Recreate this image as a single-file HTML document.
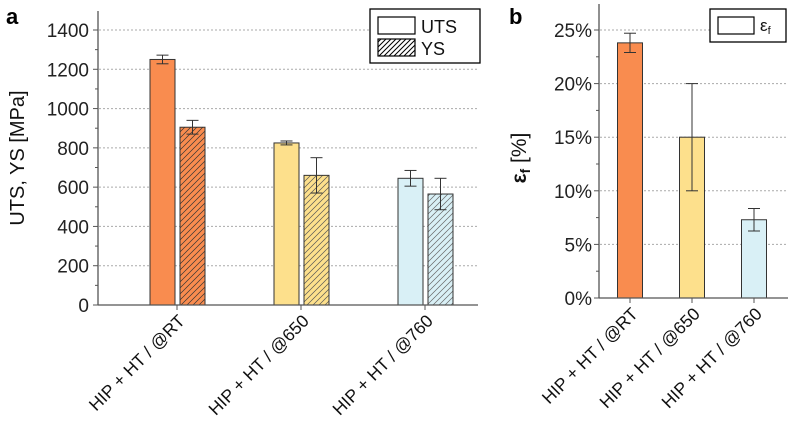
<!DOCTYPE html>
<html><head><meta charset="utf-8"><style>
body{margin:0;background:#fff}
svg{display:block;font-family:"Liberation Sans",sans-serif}
</style></head><body>
<svg id="c" width="795" height="425" viewBox="0 0 795 425">
<defs>
<pattern id="h1" patternUnits="userSpaceOnUse" width="6" height="6"><rect width="6" height="6" fill="#f98c4f"/><path d="M-1,7 L7,-1 M-2,2 L2,-2 M4,8 L8,4" stroke="#333" stroke-width="0.7"/></pattern>
<pattern id="h2" patternUnits="userSpaceOnUse" width="6" height="6"><rect width="6" height="6" fill="#fde08c"/><path d="M-1,7 L7,-1 M-2,2 L2,-2 M4,8 L8,4" stroke="#555" stroke-width="0.7"/></pattern>
<pattern id="h3" patternUnits="userSpaceOnUse" width="6" height="6"><rect width="6" height="6" fill="#d9f0f6"/><path d="M-1,7 L7,-1 M-2,2 L2,-2 M4,8 L8,4" stroke="#666" stroke-width="0.7"/></pattern>
<pattern id="hl" patternUnits="userSpaceOnUse" width="5" height="5"><rect width="5" height="5" fill="#fff"/><path d="M-1,6 L6,-1 M-2,2 L2,-2 M3,7 L7,3" stroke="#000" stroke-width="1"/></pattern>
</defs>
<g id="pa"></g><g id="pb"></g>
</svg>
<script>
const categories=["HIP + HT / @RT","HIP + HT / @650","HIP + HT / @760"];
const utsValues=[1250,825,645];
const utsErr=[22,10,40];
const ysValues=[905,660,565];
const ysErr=[35,90,80];
const efValues=[23.8,15,7.3];
const efErr=[0.9,5,1.05];
const ticksA=[0,200,400,600,800,1000,1200,1400];
const ticksB=[0,5,10,15,20,25];
const fills=["#f98c4f","#fde08c","#d9f0f6"];
const hatches=["url(#h1)","url(#h2)","url(#h3)"];
const NS="http://www.w3.org/2000/svg";
function mk(p,t,a,txt){const e=document.createElementNS(NS,t);for(const k in a)e.setAttribute(k,a[k]);if(txt!==undefined)e.textContent=txt;p.appendChild(e);return e;}
const A=document.getElementById('pa');
const ya=v=>305-v*(275/1400);
const xa=i=>177+i*124;
ticksA.forEach(t=>{
 if(t>0){const g=mk(A,'line',{x1:99,x2:478,y1:ya(t),y2:ya(t),stroke:'#aaa','stroke-width':1,'stroke-dasharray':'2,2'});
 }
 const l=mk(A,'text',{x:89,y:ya(t)+7,'text-anchor':'end','font-size':19,fill:'#222'},t);
 
 mk(A,'line',{x1:93,x2:98,y1:ya(t),y2:ya(t),stroke:'#555'});
 if(t<1400)mk(A,'line',{x1:95,x2:98,y1:ya(t+100),y2:ya(t+100),stroke:'#555'});
});
function bar(P,x,y0,y1,fill,yf,name){
 const r=mk(P,'rect',{x:x,y:y1,width:25,height:y0-y1,fill:fill,stroke:'#333','stroke-width':1});
 
 const cx=x+12.5,a=yf[0],b=yf[1];
 mk(P,'line',{x1:cx,x2:cx,y1:a,y2:b,stroke:'#333'});
 mk(P,'line',{x1:cx-6,x2:cx+6,y1:a,y2:a,stroke:'#333'});
 mk(P,'line',{x1:cx-6,x2:cx+6,y1:b,y2:b,stroke:'#333'});
}
categories.forEach((c,i)=>{
 bar(A,xa(i)-27,305,ya(utsValues[i]),fills[i],[ya(utsValues[i]+utsErr[i]),ya(utsValues[i]-utsErr[i])],'uts-bar-'+i);
 bar(A,xa(i)+3,305,ya(ysValues[i]),hatches[i],[ya(ysValues[i]+ysErr[i]),ya(ysValues[i]-ysErr[i])],'ys-bar-'+i);
 mk(A,'line',{x1:xa(i),x2:xa(i),y1:305,y2:310,stroke:'#555'});
 const t=mk(A,'text',{x:xa(i)+9,y:322,'text-anchor':'end','font-size':17.5,fill:'#111',transform:`rotate(-45 ${xa(i)+9} 322)`},c);
 
});
mk(A,'line',{x1:98,x2:98,y1:11,y2:305,stroke:'#555','stroke-width':1.3});
mk(A,'line',{x1:98,x2:478,y1:305,y2:305,stroke:'#555','stroke-width':1.3});
let tt=mk(A,'text',{x:24,y:158,'text-anchor':'middle','font-size':20,fill:'#111',transform:'rotate(-90 24 158)'},'UTS, YS [MPa]');

tt=mk(A,'text',{x:6,y:24,'font-size':22,'font-weight':'bold',fill:'#000'},'a');

let lg=mk(A,'g',{});
mk(lg,'rect',{x:370,y:9,width:110,height:54,fill:'#fff',stroke:'#000','stroke-width':1.3});
mk(lg,'rect',{x:378,y:17,width:37,height:17,fill:'#fff',stroke:'#000','stroke-width':1.2});
mk(lg,'text',{x:421,y:33,'font-size':18,fill:'#111'},'UTS');
mk(lg,'rect',{x:378,y:39,width:37,height:17,fill:'url(#hl)',stroke:'#000','stroke-width':1.2});
mk(lg,'text',{x:421,y:55,'font-size':18,fill:'#111'},'YS');
const B=document.getElementById('pb');
const yb=v=>298-v*(268/25);
const xb=i=>630+i*62;
ticksB.forEach(t=>{
 if(t>0){const g=mk(B,'line',{x1:600,x2:786,y1:yb(t),y2:yb(t),stroke:'#aaa','stroke-width':1,'stroke-dasharray':'2,2'});
 }
 const l=mk(B,'text',{x:592,y:yb(t)+7,'text-anchor':'end','font-size':19,fill:'#222'},t+'%');
 
 mk(B,'line',{x1:594,x2:599,y1:yb(t),y2:yb(t),stroke:'#555'});
 if(t<25)mk(B,'line',{x1:596,x2:599,y1:yb(t+2.5),y2:yb(t+2.5),stroke:'#555'});
});
categories.forEach((c,i)=>{
 bar(B,xb(i)-12.5,298,yb(efValues[i]),fills[i],[yb(efValues[i]+efErr[i]),yb(efValues[i]-efErr[i])],'ef-bar-'+i);
 mk(B,'line',{x1:xb(i),x2:xb(i),y1:298,y2:303,stroke:'#555'});
 const t=mk(B,'text',{x:xb(i)+9,y:315,'text-anchor':'end','font-size':17.5,fill:'#111',transform:`rotate(-45 ${xb(i)+9} 315)`},c);
 
});
mk(B,'line',{x1:599,x2:599,y1:4,y2:298,stroke:'#555','stroke-width':1.3});
mk(B,'line',{x1:599,x2:788,y1:298,y2:298,stroke:'#555','stroke-width':1.3});
tt=mk(B,'text',{x:526,y:158,'text-anchor':'middle','font-size':21,'font-weight':'bold',fill:'#111',transform:'rotate(-90 526 158)'});

tt.innerHTML='ε<tspan font-size="14" dy="4">f</tspan><tspan dy="-4" font-weight="normal"> [%]</tspan>';
tt=mk(B,'text',{x:509,y:24,'font-size':22,'font-weight':'bold',fill:'#000'},'b');

lg=mk(B,'g',{});
mk(lg,'rect',{x:710,y:9,width:76,height:33,fill:'#fff',stroke:'#000','stroke-width':1.3});
mk(lg,'rect',{x:718,y:17,width:36,height:17,fill:'#fff',stroke:'#000','stroke-width':1.2});
const le=mk(lg,'text',{x:760,y:31,'font-size':17,fill:'#111'});
le.innerHTML='ε<tspan font-size="11" dy="3">f</tspan>';
</script>
</body></html>
